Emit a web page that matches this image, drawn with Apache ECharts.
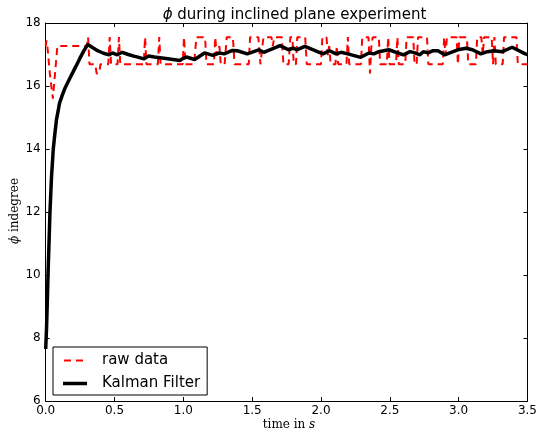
<!DOCTYPE html>
<html><head><meta charset="utf-8">
<script src="https://cdn.jsdelivr.net/npm/echarts@6/dist/echarts.min.js"></script>
<style>html,body{margin:0;padding:0;background:#fff}#c{width:540px;height:436px}</style>
</head><body><div id="c"></div>
<script>
const rawT = [0.000,0.006,0.012,0.030,0.052,0.085,0.300,0.308,0.318,0.360,0.370,0.388,0.398,0.455,0.465,0.475,0.522,0.532,0.542,0.712,0.722,0.732,0.815,0.825,0.835,0.995,1.005,1.015,1.078,1.095,1.158,1.168,1.222,1.232,1.242,1.262,1.272,1.300,1.315,1.360,1.372,1.475,1.485,1.545,1.560,1.572,1.582,1.640,1.650,1.660,1.715,1.727,1.765,1.777,1.792,1.802,1.818,1.828,1.885,1.897,2.000,2.010,2.040,2.050,2.060,2.070,2.105,2.115,2.125,2.185,2.195,2.205,2.290,2.300,2.345,2.356,2.366,2.376,2.420,2.430,2.478,2.488,2.498,2.545,2.555,2.565,2.612,2.622,2.670,2.680,2.695,2.705,2.770,2.780,2.885,2.895,2.905,2.915,2.985,2.995,3.005,3.060,3.070,3.125,3.135,3.165,3.175,3.185,3.240,3.250,3.260,3.270,3.320,3.330,3.420,3.430,3.500];
const rawV = [17.27,17.45,17.27,16.40,15.60,17.27,17.27,17.55,16.69,16.69,16.40,16.40,16.69,16.69,17.55,16.69,16.69,17.55,16.69,16.69,17.55,16.69,16.69,17.55,16.69,16.69,17.55,16.69,16.69,17.55,17.55,16.69,16.69,17.55,16.98,17.27,16.69,16.69,17.55,17.55,16.69,16.69,17.55,17.55,16.69,16.69,17.55,17.55,17.27,17.55,17.55,16.69,16.69,17.55,17.55,16.69,16.69,17.55,17.55,16.69,16.69,17.55,17.55,16.98,17.27,16.69,16.69,17.27,16.69,16.69,17.55,16.69,16.69,17.55,17.55,16.40,17.27,17.55,17.55,16.69,16.69,17.55,16.69,16.69,17.55,16.69,16.69,17.55,17.55,16.69,16.69,17.55,17.55,16.69,16.69,17.55,16.98,17.55,17.55,16.69,17.55,17.55,16.69,16.69,17.55,17.55,16.98,17.55,17.55,16.69,17.55,16.69,16.69,17.55,17.55,16.69,16.69];
// Kalman filter estimate
const kalT = [0,0.006,0.012,0.018,0.024,0.031,0.042,0.055,0.067,0.079,0.09,0.10,0.12,0.138,0.17,0.198,0.22,0.246,0.275,0.305,0.34,0.377,0.42,0.461,0.485,0.52,0.556,0.60,0.64,0.676,0.712,0.748,0.79,0.832,0.90,0.975,0.999,1.022,1.082,1.154,1.214,1.262,1.297,1.357,1.393,1.464,1.548,1.584,1.703,1.763,1.799,1.823,1.883,2.014,2.062,2.110,2.146,2.194,2.289,2.348,2.384,2.420,2.492,2.599,2.647,2.683,2.719,2.743,2.778,2.814,2.850,2.898,2.994,3.054,3.101,3.161,3.209,3.257,3.317,3.389,3.484,3.5];
const kalV = [7.65,8.3,9.2,10.2,11.0,12.0,13.1,14.0,14.5,14.95,15.2,15.45,15.7,15.91,16.2,16.44,16.63,16.86,17.1,17.32,17.22,17.12,17.04,16.99,17.05,16.99,17.07,17.0,16.95,16.91,16.86,16.95,16.92,16.9,16.86,16.81,16.88,16.92,16.84,17.05,16.97,17.05,17.02,17.13,17.12,17.02,17.15,17.07,17.28,17.15,17.2,17.15,17.26,17.02,17.12,17.02,17.07,17.02,16.91,17.05,17.02,17.09,17.15,16.99,17.09,17.05,16.99,17.09,17.05,17.12,17.12,16.99,17.15,17.2,17.15,17.02,17.09,17.12,17.09,17.23,17.02,17.0];
const xMin = 0, xMax = 3.5, xStep = 0.5;
const yMin = 6, yMax = 18, yStep = 2;
const seriesNames = ['raw data', 'Kalman Filter'];

const chart = echarts.init(document.getElementById('c'), null, {renderer: 'canvas'});
const sans = 'DejaVu Sans';
const serif = 'DejaVu Serif';
const axisCommon = {
  axisLine: {show: true, onZero: false, lineStyle: {color: '#000', width: 1}},
  axisTick: {show: true, inside: true, length: 4, lineStyle: {color: '#000', width: 1}},
  splitLine: {show: false}
};
const legendIcons = [
  'path://M0,0L0.01,0ZM24,3.5L23.99,3.5ZM1,0.75h7v2h-7zM13,0.75h7v2h-7z',
  'path://M0,0h24v3.5h-24z'
];
chart.setOption({
  animation: false,
  backgroundColor: '#fff',
  title: {
    text: '{i|ϕ} during inclined plane experiment',
    left: 289.5, top: 3, textAlign: 'center',
    textStyle: {fontFamily: sans, fontSize: 15, fontWeight: 'normal', color: '#000',
      rich: {i: {fontFamily: sans, fontStyle: 'italic', fontSize: 15, color: '#000'}}}
  },
  grid: {left: 45.7, right: 7, top: 23, bottom: 35, containLabel: false},
  xAxis: [
    Object.assign({type: 'value', min: xMin, max: xMax, interval: xStep, position: 'bottom',
      axisLabel: {show: true, margin: 4, fontFamily: sans, fontSize: 12, color: '#000',
        formatter: v => v.toFixed(1)}}, axisCommon),
    Object.assign({type: 'value', min: xMin, max: xMax, interval: xStep, position: 'top',
      axisLabel: {show: false}}, axisCommon)
  ],
  yAxis: [
    Object.assign({type: 'value', min: yMin, max: yMax, interval: yStep, position: 'left',
      axisLabel: {show: true, margin: 5, fontFamily: sans, fontSize: 12, color: '#000'}}, axisCommon),
    Object.assign({type: 'value', min: yMin, max: yMax, interval: yStep, position: 'right',
      axisLabel: {show: false}}, axisCommon)
  ],
  legend: {
    orient: 'vertical', left: 53, top: 347,
    data: seriesNames.map((n, i) => ({name: n, icon: legendIcons[i]})),
    itemWidth: 24, itemHeight: 3.5, itemGap: 8,
    padding: [6, 7, 4, 10],
    backgroundColor: '#fff', borderColor: '#000', borderWidth: 1, borderRadius: 0,
    textStyle: {fontFamily: sans, fontSize: 15, lineHeight: 14, color: '#000', padding: [0, 0, 0, 10]}
  },
  graphic: [
    {type: 'text', x: 15, y: 211, rotation: Math.PI / 2,
      style: {text: '{i|ϕ} indegree', fontFamily: serif, fontSize: 12, fill: '#000', align: 'center', verticalAlign: 'middle',
        rich: {i: {fontFamily: serif, fontStyle: 'italic', fontSize: 12}}}},
    {type: 'text', x: 289, y: 425,
      style: {text: 'time in {i|s}', fontFamily: serif, fontSize: 12, fill: '#000', align: 'center', verticalAlign: 'middle',
        rich: {i: {fontFamily: serif, fontStyle: 'italic', fontSize: 12}}}}
  ],
  series: [
    {name: seriesNames[0], type: 'line', xAxisIndex: 0, yAxisIndex: 0,
      data: rawT.map((t, i) => [t, rawV[i]]),
      showSymbol: false, symbol: 'none',
      lineStyle: {color: '#ff0000', width: 2, type: [7, 5]},
      itemStyle: {color: '#ff0000'}, z: 2},
    {name: seriesNames[1], type: 'line', xAxisIndex: 0, yAxisIndex: 0,
      data: kalT.map((t, i) => [t, kalV[i]]),
      showSymbol: false, symbol: 'none',
      lineStyle: {color: '#000', width: 3.5},
      itemStyle: {color: '#000'}, z: 3}
  ]
});
</script></body></html>
